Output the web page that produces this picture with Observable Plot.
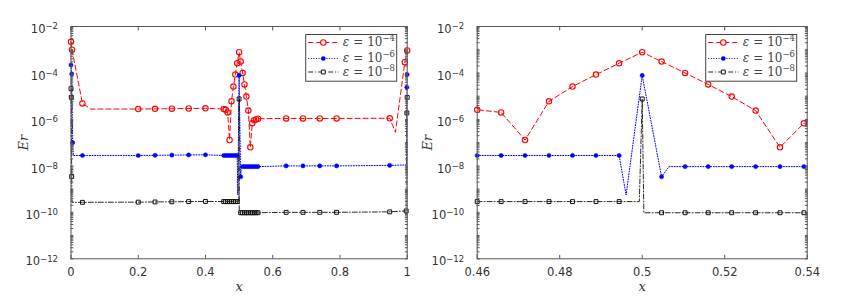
<!DOCTYPE html>
<html><head><meta charset="utf-8">
<script src="https://cdn.jsdelivr.net/npm/d3@7"></script>
<script src="https://cdn.jsdelivr.net/npm/@observablehq/plot@0.6"></script>
<style>
html,body{margin:0;padding:0;background:#fff;}
#wrap{display:flex;width:844px;height:306px;overflow:hidden;}
</style></head><body><div id="wrap"></div>
<script>
// ---- data ----
const legendExponents = ["-4", "-6", "-8"];
const yLabelTicks = [1e-12, 1e-10, 1e-8, 1e-6, 1e-4, 1e-2];
const leftXTicks = [0, 0.2, 0.4, 0.6, 0.8, 1];
const rightXTicks = [0.46, 0.48, 0.5, 0.52, 0.54];

const redX = [0, 0.003, 0.034, 0.058, 0.2, 0.25, 0.3, 0.35, 0.4, 0.4543, 0.46, 0.4658, 0.4716, 0.4774, 0.4831, 0.4888, 0.4944, 0.5, 0.5047, 0.5104, 0.516, 0.5217, 0.5275, 0.5334, 0.5392, 0.5449, 0.5506, 0.5563, 0.64, 0.69, 0.74, 0.79, 0.948, 0.965, 0.993, 1.0];
const redY = [2.2e-3, 1.0e-3, 4.9e-6, 2.8e-6, 2.8e-6, 2.85e-6, 2.9e-6, 2.95e-6, 3.0e-6, 2.8e-6, 2.6e-6, 2.0e-6, 1.3e-7, 6.0e-6, 2.6e-5, 8.5e-5, 2.6e-4, 7.8e-4, 3.1e-4, 1.0e-4, 3.2e-5, 9.6e-6, 2.4e-6, 6.3e-8, 6.8e-7, 9.3e-7, 1.0e-6, 1.07e-6, 1.1e-6, 1.1e-6, 1.1e-6, 1.1e-6, 1.12e-6, 2.8e-7, 2.9e-4, 9.3e-4];
const redMark = [1,1,1,0,1,1,1,1,1,1,1,1,1,1,1,1,1,1,1,1,1,1,1,1,1,1,1,1,1,1,1,1,1,0,1,1];

const blueX = [0, 0.002, 0.005, 0.007, 0.034, 0.2, 0.25, 0.3, 0.35, 0.4, 0.4543, 0.46, 0.4658, 0.4716, 0.4774, 0.4831, 0.4888, 0.4944, 0.4961, 0.5, 0.5047, 0.5065, 0.5104, 0.516, 0.5217, 0.5275, 0.5334, 0.5392, 0.5449, 0.5506, 0.5563, 0.64, 0.69, 0.74, 0.79, 0.948, 0.998, 0.999, 1.0];
const blueY = [2.2e-4, 9.1e-5, 1.0e-7, 2.8e-8, 2.8e-8, 2.8e-8, 2.85e-8, 2.9e-8, 2.95e-8, 3.0e-8, 2.8e-8, 2.8e-8, 2.8e-8, 2.8e-8, 2.8e-8, 2.8e-8, 2.8e-8, 2.8e-8, 5.6e-10, 7.8e-5, 3.4e-9, 9.3e-9, 9.3e-9, 9.3e-9, 9.3e-9, 9.3e-9, 9.3e-9, 9.3e-9, 9.3e-9, 9.3e-9, 9.3e-9, 1.0e-8, 1.0e-8, 1.0e-8, 1.0e-8, 1.05e-8, 1.1e-8, 2.4e-5, 8.5e-5];
const blueMark = [1,1,1,0,1,1,1,1,1,1,1,1,1,1,1,1,1,1,0,1,1,0,1,1,1,1,1,1,1,1,1,1,1,1,1,1,0,1,1];

const blackX = [0, 0.001, 0.002, 0.003, 0.034, 0.2, 0.25, 0.3, 0.35, 0.4, 0.4543, 0.46, 0.4658, 0.4716, 0.4774, 0.4831, 0.4888, 0.4944, 0.4993, 0.5, 0.5004, 0.5047, 0.5104, 0.516, 0.5217, 0.5275, 0.5334, 0.5392, 0.5449, 0.5506, 0.5563, 0.64, 0.69, 0.74, 0.79, 0.948, 0.997, 0.999, 1.0];
const blackY = [2.1e-5, 8.9e-6, 3.5e-9, 2.7e-10, 2.7e-10, 2.75e-10, 2.8e-10, 2.85e-10, 2.9e-10, 2.95e-10, 2.9e-10, 2.9e-10, 2.9e-10, 2.9e-10, 2.9e-10, 2.9e-10, 2.9e-10, 2.9e-10, 2.9e-10, 7.6e-6, 9.6e-11, 9.6e-11, 9.6e-11, 9.6e-11, 9.6e-11, 9.6e-11, 9.6e-11, 9.6e-11, 9.6e-11, 9.6e-11, 9.6e-11, 1.0e-10, 1.0e-10, 1.0e-10, 1.0e-10, 1.05e-10, 1.15e-10, 1.9e-6, 8.9e-6];
const blackMark = [1,1,1,0,1,1,1,1,1,1,1,1,1,1,1,1,1,1,0,1,0,1,1,1,1,1,1,1,1,1,1,1,1,1,1,1,1,1,1];

// ---- styles ----
const series = [
  {X: redX, Y: redY, M: redMark, color: "#ff0000", dash: "5,3", width: 1, symbol: "circle", fill: "none", r: 2.7, sw: 1.1},
  {X: blueX, Y: blueY, M: blueMark, color: "#0000ff", dash: "1,1.6", width: 1, symbol: "circle", fill: "#0000ff", r: 2.1, sw: 0.5},
  {X: blackX, Y: blackY, M: blackMark, color: "#111", dash: "5,2,1,2", width: 0.9, symbol: "square", fill: "none", r: 2.2, sw: 1}
];
const rows = series.map(s => s.X.map((x, i) => ({x, y: s.Y[i], m: s.M[i]})));

const expOf = d => String(Math.round(Math.log10(d)));
const frameColor = "#555";

function panel({xDomain, xTicks, width, ml, mr, yLabDx}) {
  const mt = 26, mb = 47.7, height = 306;
  const inX = d => d.x >= xDomain[0] - 1e-9 && d.x <= xDomain[1] + 1e-9;
  const marks = [];
  series.forEach((s, k) => {
    marks.push(Plot.line(rows[k], {x: "x", y: "y", stroke: s.color, strokeWidth: s.width, strokeDasharray: s.dash, clip: true}));
    marks.push(Plot.dot(rows[k].filter(d => d.m && inX(d)), {x: "x", y: "y", symbol: s.symbol, r: s.r, stroke: s.color, fill: s.fill, strokeWidth: s.sw}));
  });
  marks.push(
    Plot.frame({stroke: frameColor}),
    Plot.axisX({ticks: xTicks, tickSize: 0, tickPadding: 9, tickFormat: d => String(+d.toFixed(2)), label: null}),
    Plot.axisX({ticks: xTicks, tickSize: -3.5, tickFormat: () => "", label: null, stroke: frameColor}),
    Plot.axisX({anchor: "top", ticks: xTicks, tickSize: -3.5, tickFormat: () => "", label: null, stroke: frameColor}),
    Plot.axisY({ticks: yLabelTicks, tickSize: 0, tickPadding: 13, tickFormat: d => "10|" + expOf(d), dy: 3, label: null, ariaLabel: "ylab"}),
    Plot.axisY({ticks: 100, tickSize: -2.8, tickFormat: () => "", label: null, stroke: frameColor}),
    Plot.axisY({anchor: "right", ticks: 100, tickSize: -2.8, tickFormat: () => "", label: null, stroke: frameColor}),
    Plot.text(["Er"], {frameAnchor: "left", dx: yLabDx, rotate: -90, textAnchor: "middle", lineAnchor: "middle", fontFamily: "DejaVu Serif", fontStyle: "italic", fontSize: 13, fill: "#333"}),
    Plot.text(["x"], {frameAnchor: "bottom", dy: 28.5, textAnchor: "middle", lineAnchor: "middle", fontFamily: "DejaVu Serif", fontStyle: "italic", fontSize: 13, fill: "#333"})
  );
  const svgEl = Plot.plot({
    width, height, marginLeft: ml, marginRight: mr, marginTop: mt, marginBottom: mb,
    x: {domain: xDomain},
    y: {type: "log", domain: [1e-12, 1e-2]},
    style: {fontFamily: "DejaVu Sans", fontSize: "11.5px", color: "#333", background: "white", overflow: "visible"},
    marks
  });
  const svg = d3.select(svgEl);
  // power-of-ten labels: "10" with raised exponent
  svg.selectAll("text").each(function () {
    const el = d3.select(this);
    const s = el.text();
    if (!/^10\|/.test(s)) return;
    const e = s.slice(3).replace("-", "\u2212");
    el.text(null);
    el.attr("text-anchor", "end");
    el.append("tspan").text("10");
    el.append("tspan").attr("dy", "-0.45em").attr("font-size", "8.5px").text(e);
  });
  // legend box (inside plot area, top-right)
  const bw = 91, bh = 46.7;
  const bx = width - mr - 10 - bw, by = mt + 8.5;
  const g = svg.append("g").attr("text-anchor", "start");
  g.append("rect").attr("x", bx).attr("y", by).attr("width", bw).attr("height", bh)
    .attr("fill", "white").attr("stroke", "#444").attr("stroke-width", 1);
  const rowY = [8, 24, 37.5];
  series.forEach((s, k) => {
    const yy = by + rowY[k];
    g.append("line").attr("x1", bx + 2.5).attr("x2", bx + 33).attr("y1", yy).attr("y2", yy)
      .attr("stroke", s.color).attr("stroke-width", s.width).attr("stroke-dasharray", s.dash);
    const sym = s.symbol === "square" ? d3.symbolSquare : d3.symbolCircle;
    g.append("path").attr("d", d3.symbol(sym, Math.PI * s.r * s.r)())
      .attr("transform", `translate(${bx + 17.6},${yy})`)
      .attr("fill", s.fill === "none" ? "white" : s.fill).attr("stroke", s.color).attr("stroke-width", s.sw);
    const t = g.append("text").attr("x", bx + 37).attr("y", yy + 3.8).attr("text-anchor", "start")
      .attr("font-family", "DejaVu Serif").attr("font-size", 12).attr("fill", "#444");
    t.append("tspan").attr("font-style", "italic").text("\u03B5");
    t.append("tspan").attr("dx", 4).text("=");
    t.append("tspan").attr("dx", 4).text("10");
    t.append("tspan").attr("dy", -5).attr("font-size", 8.5).text(legendExponents[k].replace("-", "\u2212"));
  });
  return svgEl;
}

const wrap = document.getElementById("wrap");
wrap.appendChild(panel({xDomain: [0, 1], xTicks: leftXTicks, width: 422, ml: 70.5, mr: 15.3, yLabDx: -47.5}));
wrap.appendChild(panel({xDomain: [0.46, 0.54], xTicks: rightXTicks, width: 422, ml: 54.7, mr: 37.3, yLabDx: -49}));
</script></body></html>
